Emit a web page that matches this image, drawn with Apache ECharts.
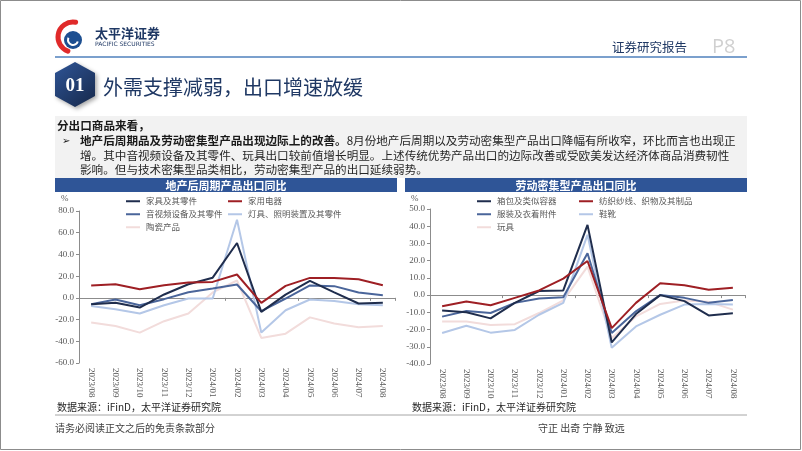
<!DOCTYPE html>
<html><head><meta charset="utf-8">
<script src="https://cdn.jsdelivr.net/npm/echarts/dist/echarts.min.js"></script>
<style>html,body{margin:0;padding:0;background:#fff}#c{width:802px;height:451px}</style>
</head><body><div id="c"></div>
<script>
// ---- data ----
var categories = ['2023/08','2023/09','2023/10','2023/11','2023/12','2024/01','2024/02','2024/03','2024/04','2024/05','2024/06','2024/07','2024/08'];
// left chart: 地产后周期产品出口同比 (%)
var furniture   = [-5.8, -4.6, -8.9, 3.1, 12.5, 18.6, 50.5, -12.9, 3.0, 15.7, 5.0, -5.2, -4.6];
var appliances  = [11.4, 12.6, 8.0, 11.7, 14.1, 14.7, 21.5, -4.6, 11.0, 18.4, 18.4, 17.2, 11.7];
var audioVideo  = [-5.8, -1.5, -6.8, -1.2, 5.2, 8.6, 12.3, -12.3, -0.6, 11.4, 10.8, 4.9, 2.5];
var lighting    = [-7.4, -10.4, -14.4, -6.8, -0.6, -0.6, 72.0, -32.0, -11.4, -1.5, -2.8, -5.8, -6.8];
var ceramics    = [-22.7, -26.0, -32.0, -21.5, -14.4, 5.0, 16.0, -36.9, -33.0, -18.0, -23.6, -27.0, -26.0];
// right chart: 劳动密集型产品出口同比 (%)
var bags        = [-9.0, -10.0, -13.5, -4.5, 2.4, 2.7, 40.8, -27.5, -11.0, 0.0, -3.5, -11.8, -10.6];
var textiles    = [-6.5, -3.7, -5.9, -1.6, 2.7, 9.6, 19.8, -19.2, -4.5, 6.9, 5.7, 3.1, 4.3];
var apparel     = [-12.5, -9.2, -10.4, -4.5, -2.0, -1.2, 24.3, -22.0, -9.4, 0.0, -1.6, -4.5, -2.9];
var footwear    = [-22.0, -17.8, -21.8, -20.2, -11.4, -4.5, 35.0, -30.6, -18.2, -11.4, -5.5, -5.1, -5.5];
var toys        = [-15.3, -15.3, -17.3, -16.9, -10.4, -3.1, 16.5, -25.0, -12.4, -5.1, -3.1, -3.9, -8.4];
var leftTicks  = {min: -60, max: 80, interval: 20};
var rightTicks = {min: -40, max: 50, interval: 10};

var CJK = "'Noto Sans CJK SC', sans-serif";
var SERIF = "'Liberation Serif', serif";
var C_NAVY = '#1f2d4d', C_RED = '#9e1f24', C_MID = '#4a659a', C_LIGHT = '#b4c7e7', C_PINK = '#f2dcdb';

function xAxes(g){
  return [
    {gridIndex:g, type:'category', data:categories, position:'bottom',
     axisLine:{show:false, onZero:false}, axisTick:{show:false},
     axisLabel:{rotate:-90, margin:5, fontFamily:SERIF, fontSize:9, color:'#595959'}},
    {gridIndex:g, type:'category', data:categories, position:'top',
     axisLine:{show:true, onZero:true, lineStyle:{color:'#8c8c8c', width:1}},
     axisTick:{show:true, inside:true, length:3, lineStyle:{color:'#8c8c8c'}},
     axisLabel:{show:false}}
  ];
}
function yAxis(g, t){
  return {gridIndex:g, type:'value', min:t.min, max:t.max, interval:t.interval,
    axisLine:{show:true, lineStyle:{color:'#8c8c8c'}},
    axisTick:{show:true, length:3, lineStyle:{color:'#8c8c8c'}},
    splitLine:{show:false},
    axisLabel:{margin:5, fontFamily:SERIF, fontSize:9, color:'#595959', formatter:function(v){return v.toFixed(1);}}};
}
function ser(name, data, color, xi, yi){
  return {name:name, type:'line', data:data, xAxisIndex:xi, yAxisIndex:yi, symbol:'none',
    lineStyle:{color:color, width:2}, itemStyle:{color:color}, silent:true, animation:false};
}
function leg(name, x, y){
  return {data:[name], left:x, top:y, padding:0, icon:'rect', itemWidth:14, itemHeight:2, itemGap:0,
    selectedMode:false, textStyle:{fontFamily:CJK, fontSize:8.5, color:'#595959', padding:[0,0,0,1]}};
}
function txt(x, y, s, o){
  o = o || {};
  return {type:'text', x:x, y:y, silent:true, style:Object.assign({text:s, fill:'#262626', fontFamily:CJK, fontSize:11, verticalAlign:'middle', align:'left'}, o)};
}

var chart = echarts.init(document.getElementById('c'));
var option = {
  backgroundColor:'#ffffff',
  animation:false,
  grid:[
    {left:79, top:211, width:316, height:152},
    {left:430, top:209, width:315, height:155}
  ],
  xAxis: xAxes(0).concat(xAxes(1)),
  yAxis: [yAxis(0, leftTicks), yAxis(1, rightTicks)],
  legend: [
    leg('家具及其零件', 126, 197), leg('家用电器', 228, 197),
    leg('音视频设备及其零件', 126, 210), leg('灯具、照明装置及其零件', 228, 210),
    leg('陶瓷产品', 126, 223),
    leg('箱包及类似容器', 477, 197), leg('纺织纱线、织物及其制品', 579, 197),
    leg('服装及衣着附件', 477, 210), leg('鞋靴', 579, 210),
    leg('玩具', 477, 223)
  ],
  series: [
    ser('陶瓷产品', ceramics, C_PINK, 0, 0),
    ser('灯具、照明装置及其零件', lighting, C_LIGHT, 0, 0),
    ser('音视频设备及其零件', audioVideo, C_MID, 0, 0),
    ser('家具及其零件', furniture, C_NAVY, 0, 0),
    ser('家用电器', appliances, C_RED, 0, 0),
    ser('玩具', toys, C_PINK, 2, 1),
    ser('鞋靴', footwear, C_LIGHT, 2, 1),
    ser('服装及衣着附件', apparel, C_MID, 2, 1),
    ser('箱包及类似容器', bags, C_NAVY, 2, 1),
    ser('纺织纱线、织物及其制品', textiles, C_RED, 2, 1)
  ],
  graphic: [
    {type:'rect', silent:true, shape:{x:0.5, y:0.5, width:800, height:449}, style:{fill:'none', stroke:'#8c8c8c', lineWidth:1}},
    // logo
    {type:'arc', silent:true, shape:{cx:73, cy:37, r:15, startAngle:-80*Math.PI/180, endAngle:-250*Math.PI/180, clockwise:false}, style:{stroke:'#e02a2a', lineWidth:5, fill:'none', lineCap:'round'}},
    {type:'circle', silent:true, shape:{cx:73, cy:40, r:9}, style:{fill:'#1d4f91'}},
    {type:'arc', silent:true, shape:{cx:73, cy:40, r:5, startAngle:0.3, endAngle:3.6}, style:{stroke:'#fff', lineWidth:2, fill:'none'}},
    txt(95, 33, '太平洋证券', {fontSize:13, fontWeight:'bold', fill:'#1f3864'}),
    txt(95, 44, 'PACIFIC SECURITIES', {fontSize:6, fontFamily:"'DejaVu Sans', sans-serif", fill:'#1f3864'}),
    {type:'line', silent:true, shape:{x1:55, y1:57, x2:747, y2:57}, style:{stroke:'#4f81bd', lineWidth:1.5}},
    txt(612, 47, '证券研究报告', {fontSize:12.5, fill:'#1f3864'}),
    txt(712, 47, 'P8', {fontSize:20, fontFamily:"'Open Sans', sans-serif", fill:'#d0d0d0'}),
    // hexagon badge
    {type:'polygon', silent:true, shape:{points:[[75,62],[95,73],[95,96],[75,107],[55,96],[55,73]]},
     style:{fill:new echarts.graphic.LinearGradient(0,0,1,1,[{offset:0,color:'#2f5597'},{offset:1,color:'#16284a'}]),
            shadowBlur:4, shadowColor:'rgba(0,0,0,0.35)', shadowOffsetX:2, shadowOffsetY:2}},
    txt(75, 86, '01', {fontSize:19, fontWeight:'bold', fontFamily:SERIF, fill:'#ffffff', align:'center'}),
    txt(103, 87, '外需支撑减弱，出口增速放缓', {fontSize:20, fill:'#1f3864'}),
    // text box
    {type:'rect', silent:true, shape:{x:55, y:116, width:692, height:62}, style:{fill:'#f2f2f2'}},
    txt(57, 126, '分出口商品来看，', {fontSize:11.6, fontWeight:'bold', fill:'#1a1a1a'}),
    txt(62, 141, '➢', {fontSize:10, fontFamily:"'DejaVu Sans', sans-serif", fill:'#1a1a1a'}),
    {type:'text', x:80, y:141, silent:true, style:{
      text:'{b|地产后周期品及劳动密集型产品出现边际上的改善。}{n|8月份地产后周期以及劳动密集型产品出口降幅有所收窄，环比而言也出现正}',
      verticalAlign:'middle', fontFamily:CJK, fontSize:11.6, fill:'#262626',
      rich:{b:{fontWeight:'bold', fontFamily:CJK, fontSize:11.6, fill:'#1a1a1a'}, n:{fontFamily:CJK, fontSize:11.6, fill:'#262626'}}}},
    txt(80, 156, '增。其中音视频设备及其零件、玩具出口较前值增长明显。上述传统优势产品出口的边际改善或受欧美发达经济体商品消费韧性', {fontSize:11.6}),
    txt(80, 170, '影响。但与技术密集型品类相比，劳动密集型产品的出口延续弱势。', {fontSize:11.6}),
    // chart title bars
    {type:'rect', silent:true, shape:{x:55, y:178, width:342, height:14}, style:{fill:'#2f5597'}},
    {type:'rect', silent:true, shape:{x:405, y:178, width:342, height:14}, style:{fill:'#2f5597'}},
    txt(226, 185.5, '地产后周期产品出口同比', {fontSize:11, fontWeight:'bold', fill:'#ffffff', align:'center'}),
    txt(576, 185.5, '劳动密集型产品出口同比', {fontSize:11, fontWeight:'bold', fill:'#ffffff', align:'center'}),
    txt(61, 199, '%', {fontSize:9, fontFamily:SERIF, fill:'#595959'}),
    txt(411, 199, '%', {fontSize:9, fontFamily:SERIF, fill:'#595959'}),
    // sources & footer
    txt(57, 407, '数据来源：iFinD，太平洋证券研究院', {fontSize:10}),
    txt(412, 407, '数据来源：iFinD，太平洋证券研究院', {fontSize:10}),
    {type:'line', silent:true, shape:{x1:55, y1:415, x2:747, y2:415}, style:{stroke:'#a6a6a6', lineWidth:1}},
    txt(55, 428, '请务必阅读正文之后的免责条款部分', {fontSize:10, fill:'#404040'}),
    txt(538, 428, '守正 出奇 宁静 致远', {fontSize:10, fill:'#404040'})
  ]
};
chart.setOption(option);
</script></body></html>
